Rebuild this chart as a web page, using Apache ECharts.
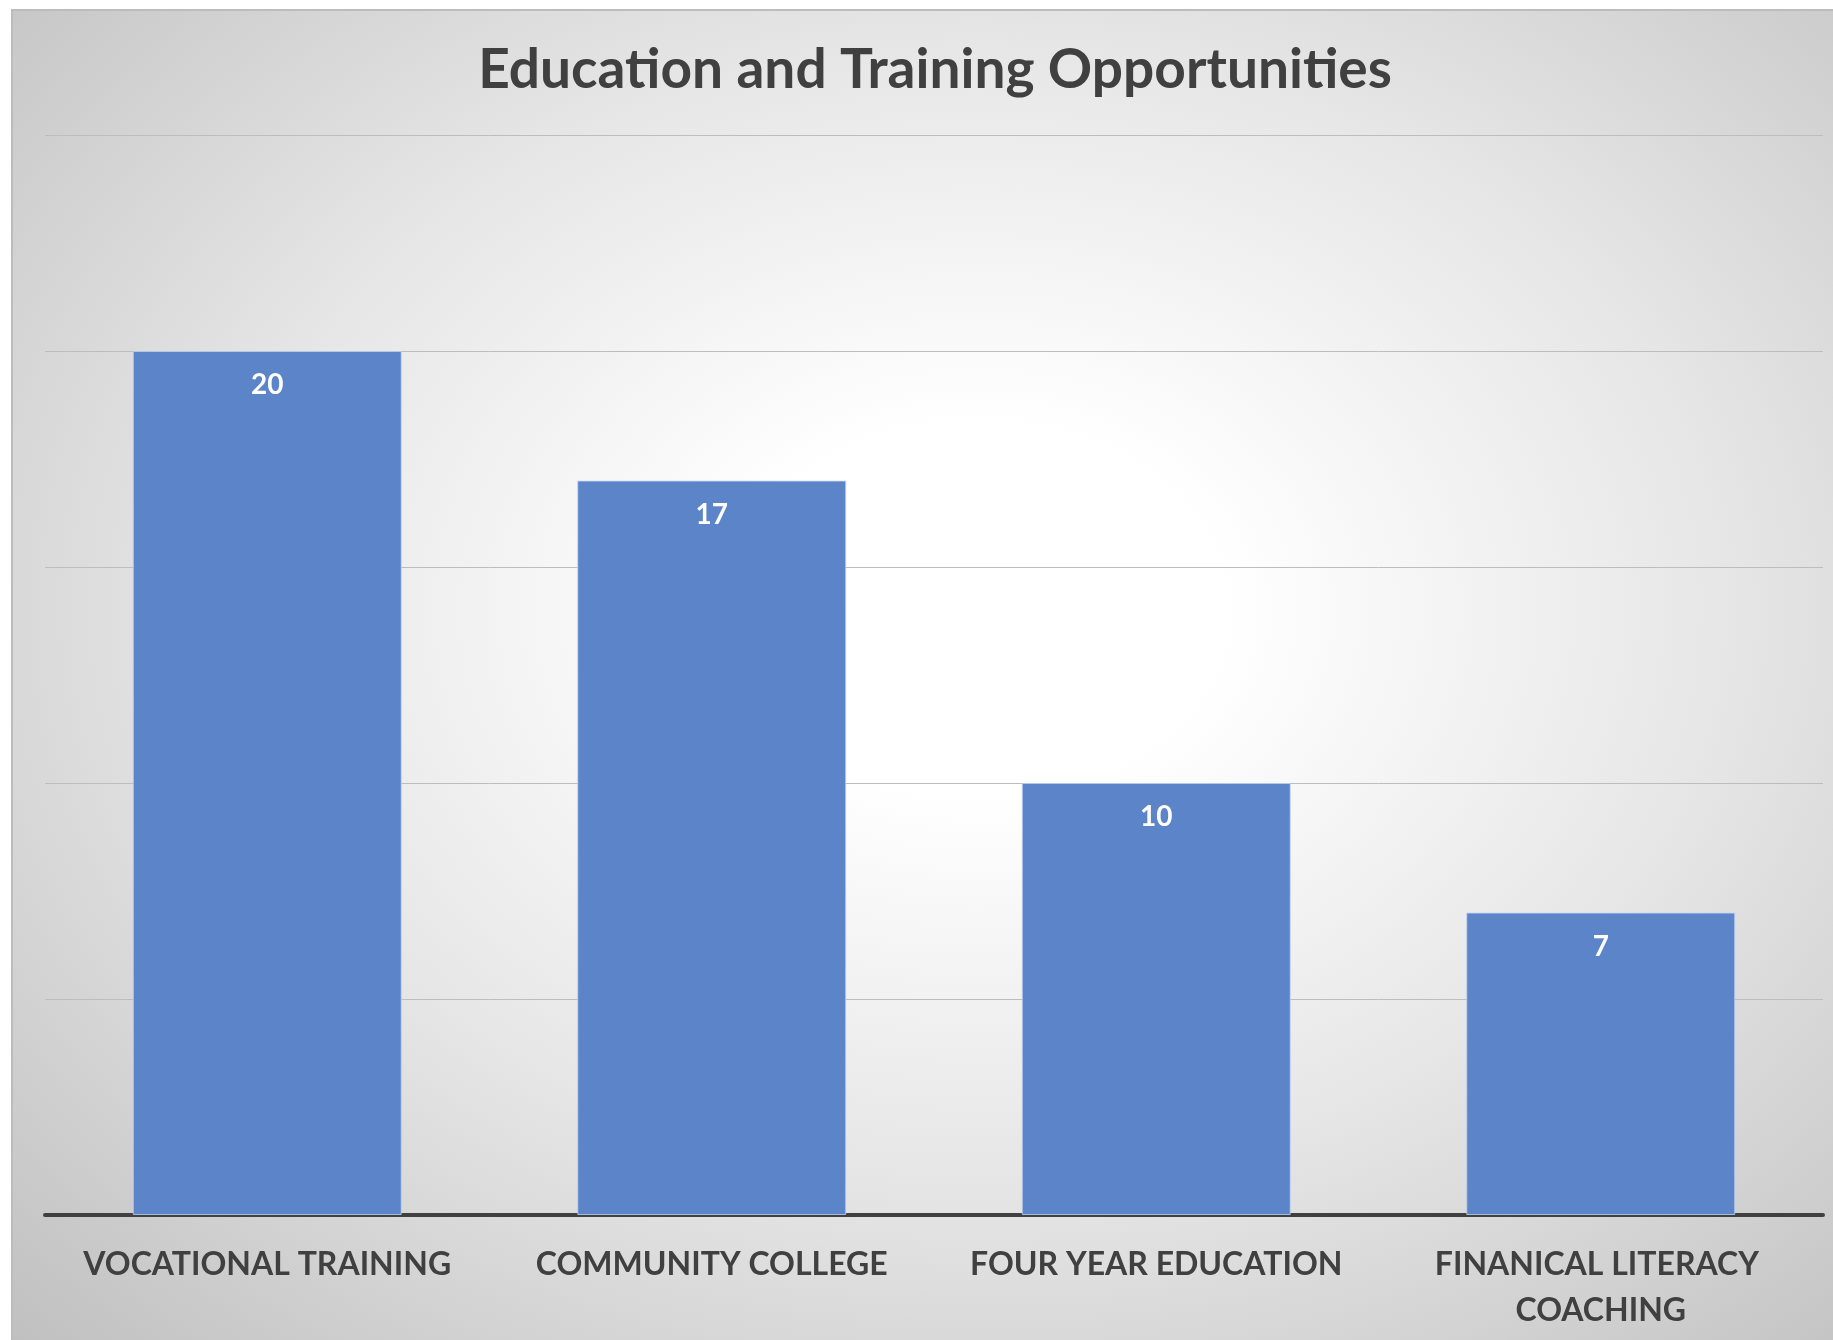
<!DOCTYPE html>
<html>
<head>
<meta charset="utf-8">
<script src="https://cdn.jsdelivr.net/npm/echarts@6/dist/echarts.min.js"></script>
<style>
	html, body { margin: 0; padding: 0; background: #ffffff; width: 1833px; height: 1340px; overflow: hidden; }
	#chart_box {
		position: absolute; left: 11px; top: 9px; width: 1822px; height: 1331px;
		border-left: 2px solid #bcbcbc; border-top: 2px solid #bcbcbc;
		background: radial-gradient(ellipse farthest-corner at 53% 45%, #ffffff 0%, #ffffff 18%, #e6e6e6 55%, #c0c0c0 100%);
	}
	#main { width: 1822px; height: 1331px; }
</style>
</head>
<body>
<div id="chart_box"><div id="main"></div></div>
<script>
var title = 'Education and Training Opportunities';
var categories = ['VOCATIONAL TRAINING', 'COMMUNITY COLLEGE', 'FOUR YEAR EDUCATION', 'FINANICAL LITERACY COACHING'];
var values = [20, 17, 10, 7];
var yMin = 0;
var yMax = 25;
var yStep = 5;

var chart = echarts.init(document.getElementById('main'));
var option = {
	backgroundColor : 'transparent',
	animation : false,
	title : {
		text : title,
		left : 917,
		textAlign : 'center',
		top : 27,
		textStyle : {
			fontFamily : 'Lato',
			fontWeight : 'bold',
			fontSize : 55,
			color : '#404040'
		}
	},
	grid : {
		left : 32,
		right : 12,
		top : 124,
		bottom : 127
	},
	xAxis : {
		type : 'category',
		data : categories,
		axisTick : { show : false },
		axisLine : { lineStyle : { color : '#404040', width : 4 } },
		axisLabel : {
			interval : 0,
			margin : 27,
			width : 425,
			overflow : 'break',
			lineHeight : 46,
			fontFamily : 'Lato',
			fontWeight : 'bold',
			fontSize : 32,
			color : '#404040'
		}
	},
	yAxis : {
		type : 'value',
		min : yMin,
		max : yMax,
		interval : yStep,
		axisLabel : { show : false },
		axisLine : { show : false },
		axisTick : { show : false },
		splitLine : { lineStyle : { color : '#bdbdbd', width : 1 } }
	},
	series : [ {
		type : 'bar',
		data : values,
		barCategoryGap : '39.5%',
		itemStyle : {
			color : '#5b84c9',
			borderColor : 'rgba(190,210,240,0.8)',
			borderWidth : 1
		},
		label : {
			show : true,
			position : 'insideTop',
			distance : 20,
			fontFamily : 'Lato',
			fontWeight : 'bold',
			fontSize : 28,
			color : '#ffffff'
		}
	} ]
};
chart.setOption(option);
</script>
</body>
</html>
